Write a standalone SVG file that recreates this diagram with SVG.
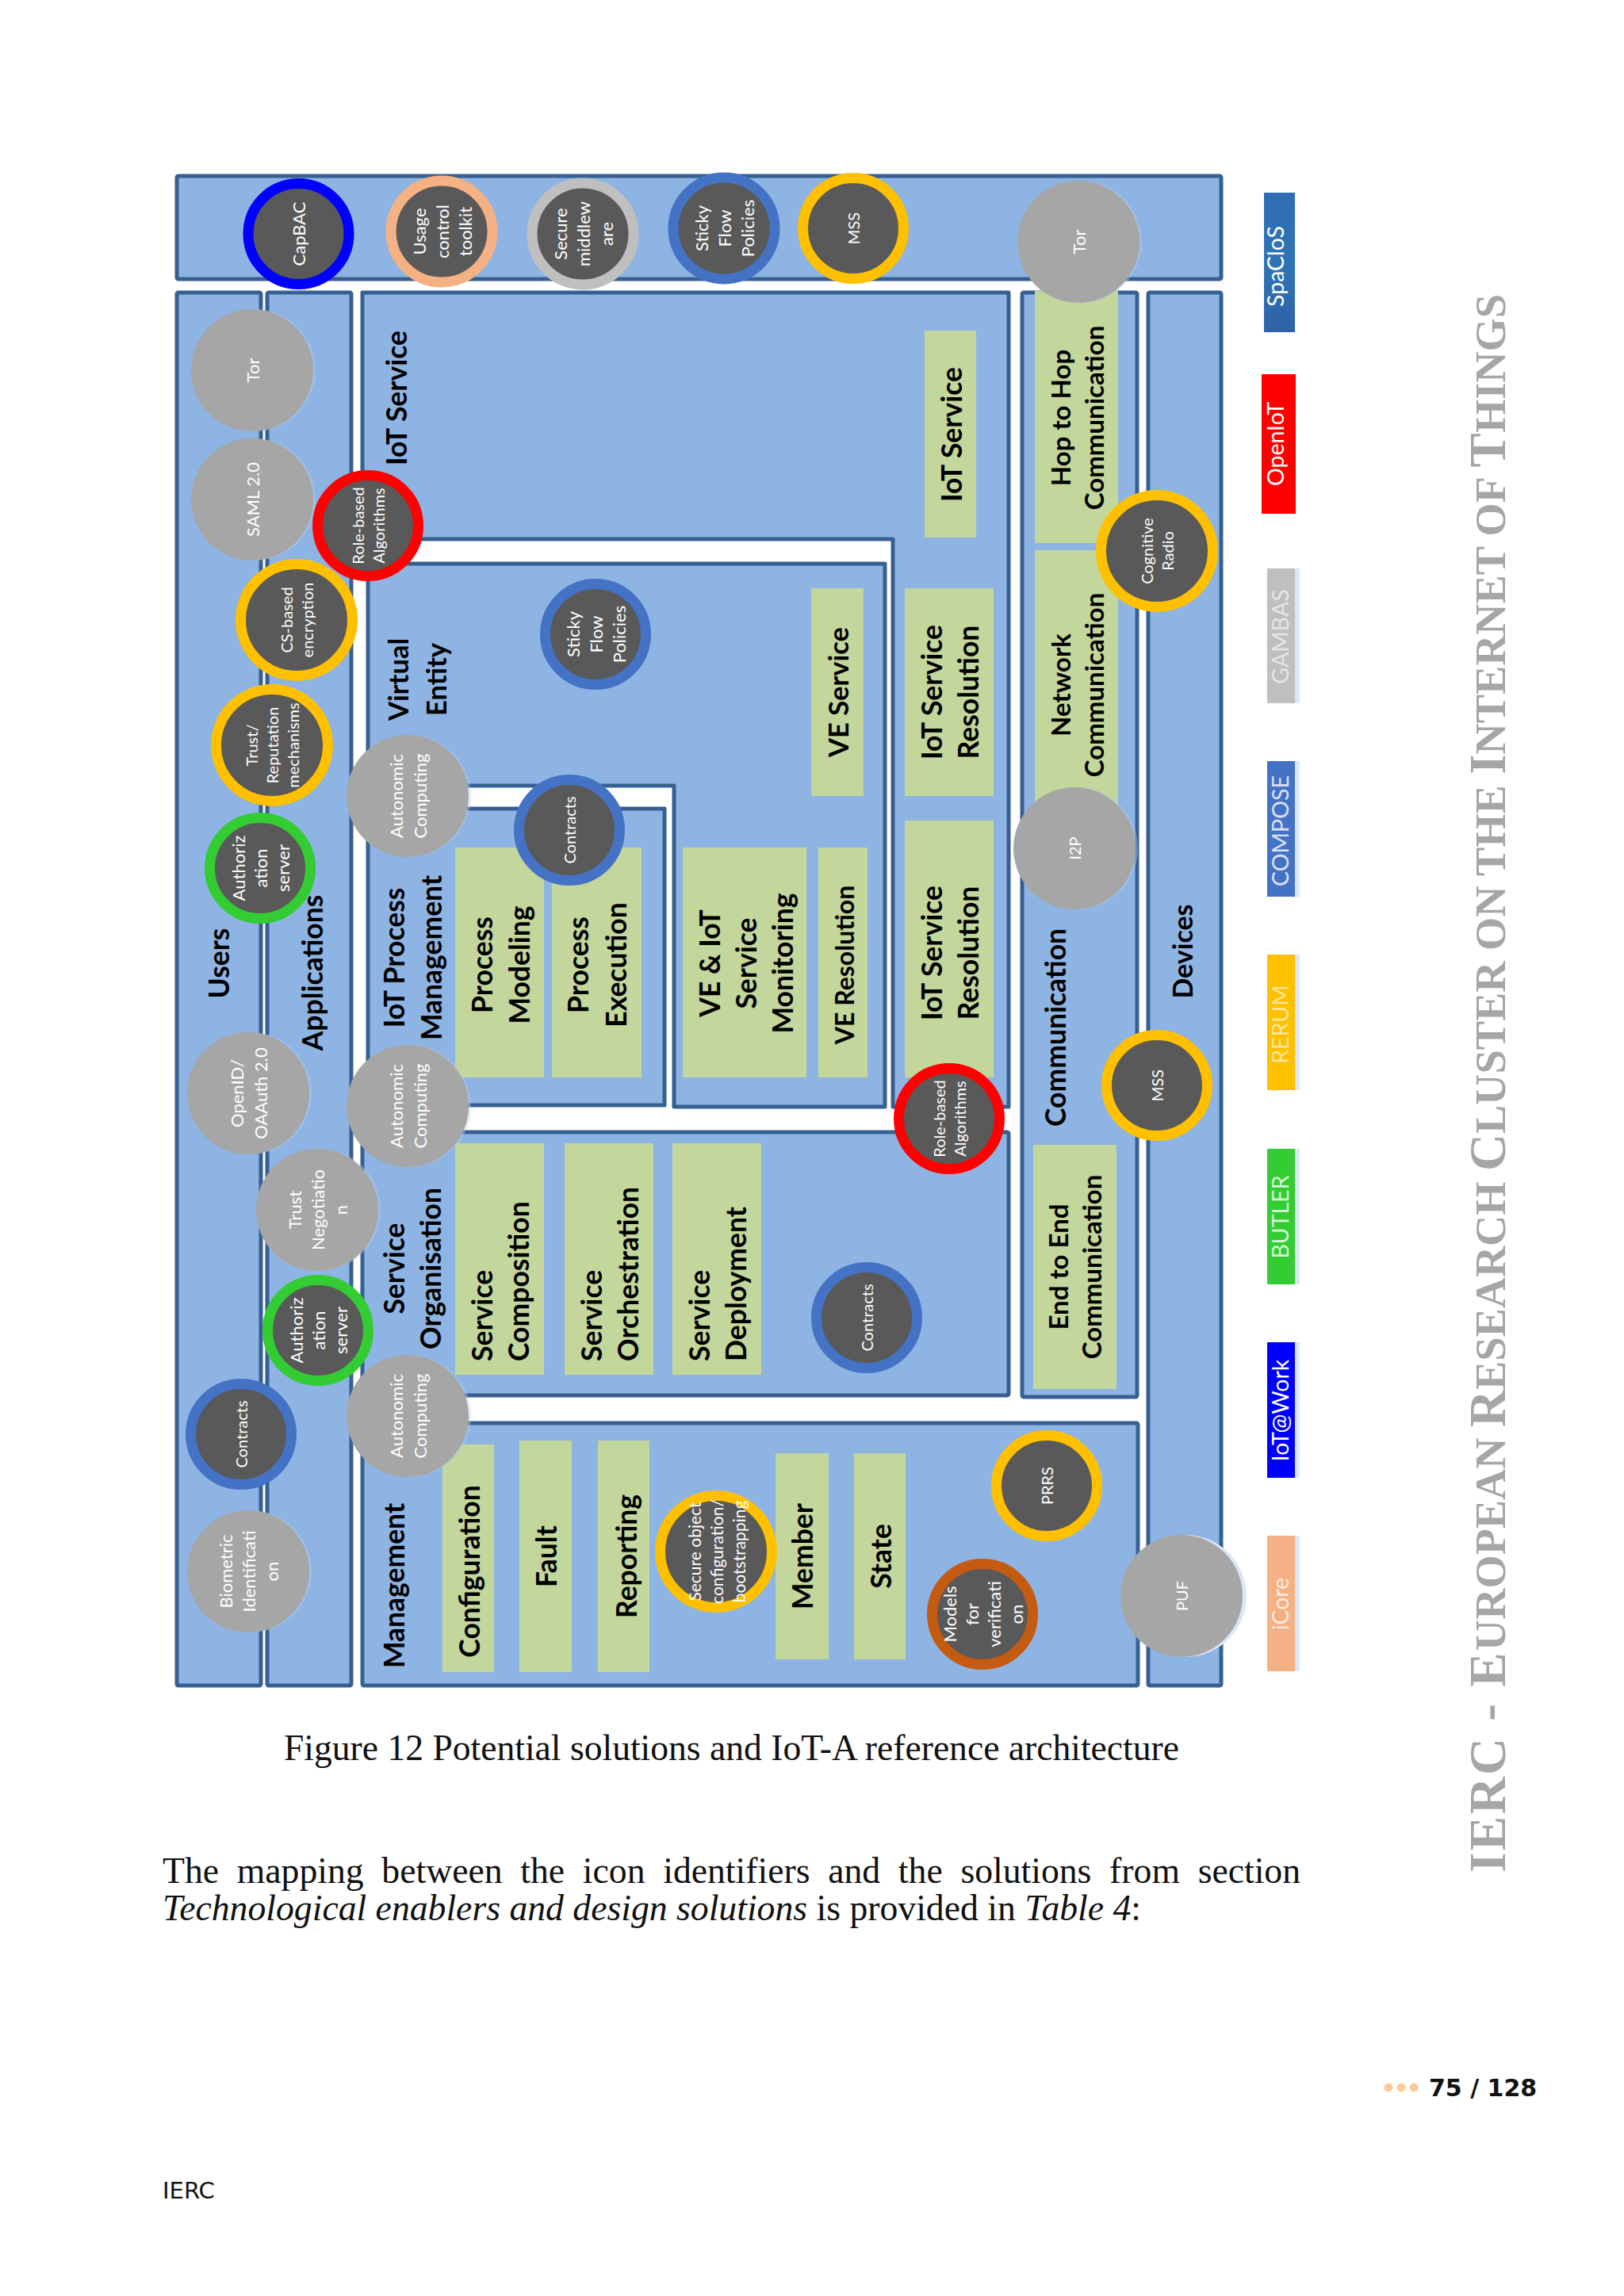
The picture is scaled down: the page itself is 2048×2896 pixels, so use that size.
<svg xmlns="http://www.w3.org/2000/svg" width="2048" height="2896" viewBox="0 0 2048 2896">
<defs><style>
text{font-family:"Lato","Open Sans",sans-serif}
.t{dominant-baseline:central;text-anchor:middle}
.box{fill:#8eb4e3;stroke:#376092;stroke-width:5;stroke-linejoin:round}
.g{fill:#c3d69b}
.b{font-weight:700;font-size:35.500px;fill:#000}
.c{font-size:33px}
.s{font-size:22px;fill:#fff}
.m{font-size:20px;fill:#fff}
.leg{font-size:28.500px;fill:#fff}
.gr{fill:#a6a6a6}
.sh{fill:#b7cdea;opacity:.4}
.dk{fill:#595959;stroke-width:13}
.bs{fill:#dce6f4}
.serif{font-family:"Liberation Serif",serif;font-size:45.700px;fill:#111}
.hd{font-family:"Liberation Serif",serif;font-weight:700;fill:#a6a6a6}
.big{font-size:65px}
</style>
<linearGradient id="spa" x1="0" y1="0" x2="0" y2="1"><stop offset="0" stop-color="#2f6db5"/><stop offset=".5" stop-color="#2e75b6"/><stop offset="1" stop-color="#2f62a8"/></linearGradient>
</defs>
<rect width="2048" height="2896" fill="#fff"/>

<g id="layers">
<rect id="top-bar" class="box" x="223" y="222" width="1317" height="130" rx="2"/>
<rect id="users" class="box" x="223" y="369" width="106" height="1757" rx="2"/>
<rect id="applications" class="box" x="337" y="369" width="106" height="1757" rx="2"/>
<path id="iot-service" class="box" d="M457,369H1272V1396H1126V680H457Z"/>
<path id="virtual-entity" class="box" d="M464,711H1116V1396H850V991H464Z"/>
<rect id="iot-process" class="box" x="464" y="1020" width="374" height="374"/>
<rect id="service-organisation" class="box" x="457" y="1428" width="815" height="332" rx="2"/>
<rect id="management" class="box" x="457" y="1795" width="978" height="331" rx="2"/>
<rect id="communication" class="box" x="1289" y="369" width="145" height="1393" rx="2"/>
<rect id="devices" class="box" x="1448" y="369" width="92" height="1757" rx="2"/>
</g>

<g id="layer-labels">
<text class="t b" transform="translate(499,502) rotate(-90)">IoT Service</text>
<text class="t b" style="font-size:34.500px" transform="translate(525,857) rotate(-90)"><tspan x="0" y="-24">Virtual</tspan><tspan x="0" y="24">Entity</tspan></text>
<text class="t b" transform="translate(520,1208) rotate(-90)"><tspan x="0" y="-24">IoT Process</tspan><tspan x="0" y="23">Management</tspan></text>
<text class="t b" transform="translate(519,1600) rotate(-90)"><tspan x="0" y="-23">Service</tspan><tspan x="0" y="23">Organisation</tspan></text>
<text class="t b" transform="translate(496,2000) rotate(-90)">Management</text>
<text class="t b" transform="translate(275,1215) rotate(-90)">Users</text>
<text class="t b" transform="translate(393,1227) rotate(-90)">Applications</text>
<text class="t b" transform="translate(1330,1296) rotate(-90)">Communication</text>
<text class="t b" style="font-size:34px" transform="translate(1490,1200) rotate(-90)">Devices</text>
</g>

<g id="functional-blocks">
<g id="fb-iot-service"><rect class="g" x="1166" y="417" width="65" height="261"/><text class="t b" transform="translate(1199,548) rotate(-90)">IoT Service</text></g>
<g id="fb-ve-service"><rect class="g" x="1023" y="742" width="66" height="262"/><text class="t b" style="font-size:34.500px" transform="translate(1056,873) rotate(-90)">VE Service</text></g>
<g id="fb-iot-res-1"><rect class="g" x="1141" y="742" width="112" height="262"/><text class="t b" transform="translate(1197,873) rotate(-90)"><tspan x="0" y="-23">IoT Service</tspan><tspan x="0" y="23">Resolution</tspan></text></g>
<g id="fb-iot-res-2"><rect class="g" x="1141" y="1035" width="112" height="324"/><text class="t b" transform="translate(1197,1202) rotate(-90)"><tspan x="0" y="-23">IoT Service</tspan><tspan x="0" y="23">Resolution</tspan></text></g>
<g id="fb-ve-res"><rect class="g" x="1032" y="1069" width="62" height="290"/><text class="t b" style="font-size:32px" transform="translate(1064,1217) rotate(-90)">VE Resolution</text></g>
<g id="fb-ve-mon"><rect class="g" x="861" y="1069" width="156" height="290"/><text class="t b" transform="translate(940,1215) rotate(-90)"><tspan x="0" y="-46">VE &amp; IoT</tspan><tspan x="0" y="0">Service</tspan><tspan x="0" y="46">Monitoring</tspan></text></g>
<g id="fb-proc-mod"><rect class="g" x="574" y="1069" width="112" height="290"/><text class="t b" transform="translate(630,1217) rotate(-90)"><tspan x="0" y="-23">Process</tspan><tspan x="0" y="24">Modeling</tspan></text></g>
<g id="fb-proc-exe"><rect class="g" x="696" y="1069" width="113" height="290"/><text class="t b" transform="translate(752,1217) rotate(-90)"><tspan x="0" y="-24">Process</tspan><tspan x="0" y="24">Execution</tspan></text></g>
<g id="fb-svc-comp"><rect class="g" x="574" y="1442" width="112" height="292"/><text class="b" style="dominant-baseline:central" transform="translate(630,1717) rotate(-90)"><tspan x="0" y="-23">Service</tspan><tspan x="0" y="23">Composition</tspan></text></g>
<g id="fb-svc-orch"><rect class="g" x="712" y="1442" width="112" height="292"/><text class="b" style="dominant-baseline:central" transform="translate(768,1717) rotate(-90)"><tspan x="0" y="-23">Service</tspan><tspan x="0" y="23">Orchestration</tspan></text></g>
<g id="fb-svc-dep"><rect class="g" x="848" y="1442" width="112" height="292"/><text class="b" style="dominant-baseline:central" transform="translate(904,1717) rotate(-90)"><tspan x="0" y="-23">Service</tspan><tspan x="0" y="23">Deployment</tspan></text></g>
<g id="fb-config"><rect class="g" x="558" y="1822" width="65" height="287"/><text class="t b" transform="translate(591,1982) rotate(-90)">Configuration</text></g>
<g id="fb-fault"><rect class="g" x="655" y="1817" width="66" height="292"/><text class="t b" transform="translate(688,1963) rotate(-90)">Fault</text></g>
<g id="fb-reporting"><rect class="g" x="754" y="1817" width="65" height="292"/><text class="t b" transform="translate(789,1963) rotate(-90)">Reporting</text></g>
<g id="fb-member"><rect class="g" x="978" y="1833" width="67" height="260"/><text class="t b" transform="translate(1011,1963) rotate(-90)">Member</text></g>
<g id="fb-state"><rect class="g" x="1077" y="1833" width="65" height="260"/><text class="t b" transform="translate(1110,1963) rotate(-90)">State</text></g>
<g id="fb-e2e"><rect class="g" x="1303" y="1444" width="105" height="308"/><text class="t b c" transform="translate(1355,1598) rotate(-90)"><tspan x="0" y="-21">End to End</tspan><tspan x="0" y="21">Communication</tspan></text></g>
<g id="fb-hop"><rect class="g" x="1305" y="367" width="105" height="318"/><text class="t b c" transform="translate(1358,527) rotate(-90)"><tspan x="0" y="-21">Hop to Hop</tspan><tspan x="0" y="21">Communication</tspan></text></g>
<g id="fb-net"><rect class="g" x="1305" y="694" width="105" height="322"/><text class="t b c" transform="translate(1358,864) rotate(-90)"><tspan x="0" y="-21">Network</tspan><tspan x="0" y="21">Communication</tspan></text></g>
</g>

<g id="solutions">
<g id="sol-capbac"><circle class="dk" cx="376.500" cy="295" r="63.500" stroke="#0000ff"/><text class="t s" transform="translate(376.500,295) rotate(-90)">CapBAC</text></g>
<g id="sol-usage"><circle class="dk" cx="557" cy="292" r="64" stroke="#f4b183"/><text class="t s" transform="translate(557,292) rotate(-90)"><tspan x="0" y="-29">Usage</tspan><tspan x="0" y="0">control</tspan><tspan x="0" y="29">toolkit</tspan></text></g>
<g id="sol-secure-mw"><circle class="dk" cx="735" cy="295" r="64" stroke="#bfbfbf"/><text class="t s" transform="translate(735,295) rotate(-90)"><tspan x="0" y="-29">Secure</tspan><tspan x="0" y="0">middlew</tspan><tspan x="0" y="29">are</tspan></text></g>
<g id="sol-sticky-top"><circle class="dk" cx="913" cy="288" r="64" stroke="#4472c4"/><text class="t s" transform="translate(913,288) rotate(-90)"><tspan x="0" y="-29">Sticky</tspan><tspan x="0" y="0">Flow</tspan><tspan x="0" y="29">Policies</tspan></text></g>
<g id="sol-mss-top"><circle class="dk" cx="1076" cy="288" r="63.500" stroke="#ffc000"/><text class="t m" transform="translate(1076,288) rotate(-90)">MSS</text></g>
<g id="sol-tor-top"><circle class="sh" cx="1363" cy="305" r="77"/><circle class="gr" cx="1360" cy="305" r="77"/><text class="t s" transform="translate(1360,305) rotate(-90)">Tor</text></g>
<g id="sol-tor"><circle class="sh" cx="321" cy="467" r="77"/><circle class="gr" cx="318" cy="467" r="77"/><text class="t s" transform="translate(318,467) rotate(-90)">Tor</text></g>
<g id="sol-saml"><circle class="sh" cx="321" cy="630" r="77"/><circle class="gr" cx="318" cy="630" r="77"/><text class="t s" transform="translate(318,630) rotate(-90)">SAML 2.0</text></g>
<g id="sol-role-1"><circle class="dk" cx="464" cy="663" r="63.500" stroke="#ff0000"/><text class="t m" transform="translate(464,663) rotate(-90)"><tspan x="0" y="-13">Role-based</tspan><tspan x="0" y="13">Algorithms</tspan></text></g>
<g id="sol-cs"><circle class="dk" cx="374" cy="782" r="70.500" stroke="#ffc000"/><text class="t m" transform="translate(374,782) rotate(-90)"><tspan x="0" y="-13">CS-based</tspan><tspan x="0" y="13">encryption</tspan></text></g>
<g id="sol-trust"><circle class="dk" cx="343" cy="940" r="70.500" stroke="#ffc000"/><text class="t m" transform="translate(343,940) rotate(-90)"><tspan x="0" y="-26">Trust/</tspan><tspan x="0" y="0">Reputation</tspan><tspan x="0" y="26">mechanisms</tspan></text></g>
<g id="sol-auth-1"><circle class="dk" cx="328" cy="1095" r="63.500" stroke="#33cc33"/><text class="t s" transform="translate(328,1095) rotate(-90)"><tspan x="0" y="-28">Authoriz</tspan><tspan x="0" y="0">ation</tspan><tspan x="0" y="28">server</tspan></text></g>
<g id="sol-sticky-ve"><circle class="dk" cx="751" cy="800" r="63.500" stroke="#4472c4"/><text class="t s" transform="translate(751,800) rotate(-90)"><tspan x="0" y="-29">Sticky</tspan><tspan x="0" y="0">Flow</tspan><tspan x="0" y="29">Policies</tspan></text></g>
<g id="sol-autonomic-1"><circle class="sh" cx="517" cy="1004" r="77"/><circle class="gr" cx="514" cy="1004" r="77"/><text class="t s" transform="translate(514,1004) rotate(-90)"><tspan x="0" y="-15">Autonomic</tspan><tspan x="0" y="15">Computing</tspan></text></g>
<g id="sol-contracts-1"><circle class="dk" cx="718" cy="1047" r="63.500" stroke="#4472c4"/><text class="t m" transform="translate(718,1047) rotate(-90)">Contracts</text></g>
<g id="sol-openid"><circle class="sh" cx="316" cy="1379" r="77"/><circle class="gr" cx="313" cy="1379" r="77"/><text class="t s" transform="translate(313,1379) rotate(-90)"><tspan x="0" y="-15">OpenID/</tspan><tspan x="0" y="15">OAAuth 2.0</tspan></text></g>
<g id="sol-autonomic-2"><circle class="sh" cx="517" cy="1395" r="77"/><circle class="gr" cx="514" cy="1395" r="77"/><text class="t s" transform="translate(514,1395) rotate(-90)"><tspan x="0" y="-15">Autonomic</tspan><tspan x="0" y="15">Computing</tspan></text></g>
<g id="sol-trust-neg"><circle class="sh" cx="403" cy="1526" r="77"/><circle class="gr" cx="400" cy="1526" r="77"/><text class="t s" transform="translate(400,1526) rotate(-90)"><tspan x="0" y="-29">Trust</tspan><tspan x="0" y="0">Negotiatio</tspan><tspan x="0" y="29">n</tspan></text></g>
<g id="sol-auth-2"><circle class="dk" cx="401" cy="1678" r="63.500" stroke="#33cc33"/><text class="t s" transform="translate(401,1678) rotate(-90)"><tspan x="0" y="-28">Authoriz</tspan><tspan x="0" y="0">ation</tspan><tspan x="0" y="28">server</tspan></text></g>
<g id="sol-autonomic-3"><circle class="sh" cx="517" cy="1786" r="77"/><circle class="gr" cx="514" cy="1786" r="77"/><text class="t s" transform="translate(514,1786) rotate(-90)"><tspan x="0" y="-15">Autonomic</tspan><tspan x="0" y="15">Computing</tspan></text></g>
<g id="sol-contracts-2"><circle class="dk" cx="304" cy="1809" r="63.500" stroke="#4472c4"/><text class="t m" transform="translate(304,1809) rotate(-90)">Contracts</text></g>
<g id="sol-biometric"><circle class="sh" cx="316" cy="1982" r="77"/><circle class="gr" cx="313" cy="1982" r="77"/><text class="t s" transform="translate(313,1982) rotate(-90)"><tspan x="0" y="-29">Biometric</tspan><tspan x="0" y="0">Identificati</tspan><tspan x="0" y="29">on</tspan></text></g>
<g id="sol-secure-obj"><circle class="dk" cx="903" cy="1957" r="70.500" stroke="#ffc000"/><text class="t m" style="font-size:21px" transform="translate(903,1957) rotate(-90)"><tspan x="0" y="-28">Secure object</tspan><tspan x="0" y="0">configuration/</tspan><tspan x="0" y="28">bootstrapping</tspan></text></g>
<g id="sol-role-2"><circle class="dk" cx="1197" cy="1411" r="63.500" stroke="#ff0000"/><text class="t m" transform="translate(1197,1411) rotate(-90)"><tspan x="0" y="-13">Role-based</tspan><tspan x="0" y="13">Algorithms</tspan></text></g>
<g id="sol-mss-2"><circle class="dk" cx="1459" cy="1369" r="63.500" stroke="#ffc000"/><text class="t m" transform="translate(1459,1369) rotate(-90)">MSS</text></g>
<g id="sol-contracts-3"><circle class="dk" cx="1093" cy="1662" r="63.500" stroke="#4472c4"/><text class="t m" transform="translate(1093,1662) rotate(-90)">Contracts</text></g>
<g id="sol-prrs"><circle class="dk" cx="1320" cy="1874" r="63.500" stroke="#ffc000"/><text class="t m" transform="translate(1320,1874) rotate(-90)">PRRS</text></g>
<g id="sol-models"><circle class="dk" cx="1239" cy="2036" r="63.500" stroke="#c55a11"/><text class="t s" transform="translate(1239,2036) rotate(-90)"><tspan x="0" y="-42">Models</tspan><tspan x="0" y="-14">for</tspan><tspan x="0" y="14">verificati</tspan><tspan x="0" y="42">on</tspan></text></g>
<g id="sol-puf"><circle class="bs" cx="1495" cy="2013" r="77"/><circle class="gr" cx="1490" cy="2013" r="77"/><text class="t m" transform="translate(1490,2013) rotate(-90)">PUF</text></g>
<g id="sol-cognitive"><circle class="dk" cx="1459" cy="695" r="70.500" stroke="#ffc000"/><text class="t m" transform="translate(1459,695) rotate(-90)"><tspan x="0" y="-13">Cognitive</tspan><tspan x="0" y="13">Radio</tspan></text></g>
<g id="sol-i2p"><circle class="sh" cx="1358" cy="1070" r="77"/><circle class="gr" cx="1355" cy="1070" r="77"/><text class="t m" transform="translate(1355,1070) rotate(-90)">I2P</text></g>
</g>

<g id="legend">
<g id="leg-spaclos"><rect x="1594" y="243" width="39" height="176" fill="url(#spa)"/><text class="t leg" transform="translate(1608,336) rotate(-90)">SpaCloS</text></g>
<g id="leg-openiot"><rect x="1591" y="472" width="43" height="176" fill="#ff0000"/><text class="t leg" transform="translate(1608,560) rotate(-90)">OpenIoT</text></g>
<g id="leg-gambas"><rect class="bs" x="1633" y="717" width="6" height="170"/><rect x="1598" y="717" width="35" height="170" fill="#bfbfbf"/><text class="t leg" opacity=".6" transform="translate(1614,803) rotate(-90)">GAMBAS</text></g>
<g id="leg-compose"><rect class="bs" x="1633" y="960" width="6" height="171"/><rect x="1598" y="960" width="35" height="171" fill="#4472c4"/><text class="t leg" opacity=".8" transform="translate(1614,1048) rotate(-90)">COMPOSE</text></g>
<g id="leg-rerum"><rect class="bs" x="1633" y="1204" width="6" height="171"/><rect x="1598" y="1204" width="35" height="171" fill="#ffc000"/><text class="t leg" opacity=".6" transform="translate(1614,1292) rotate(-90)">RERUM</text></g>
<g id="leg-butler"><rect class="bs" x="1633" y="1449" width="6" height="171"/><rect x="1598" y="1449" width="35" height="171" fill="#33cc33"/><text class="t leg" opacity=".8" transform="translate(1614,1535) rotate(-90)">BUTLER</text></g>
<g id="leg-iotwork"><rect class="bs" x="1633" y="1693" width="6" height="171"/><rect x="1598" y="1693" width="35" height="171" fill="#0000ff"/><text class="t leg" transform="translate(1614,1779) rotate(-90)">IoT@Work</text></g>
<g id="leg-icore"><rect class="bs" x="1633" y="1937" width="6" height="171"/><rect x="1598" y="1937" width="35" height="171" fill="#f4b183"/><text class="t leg" opacity=".75" transform="translate(1614,2023) rotate(-90)">iCore</text></g>
</g>

<text id="running-head" class="hd" font-size="54.300" transform="translate(1898,2362) rotate(-90)"><tspan class="big" letter-spacing="2.500">IERC - E</tspan>UROPEAN <tspan class="big">R</tspan>ESEARCH <tspan class="big">C</tspan>LUSTER ON THE <tspan class="big">I</tspan>NTERNET OF <tspan class="big">T</tspan>HINGS</text>

<text id="caption" class="serif" style="font-size:45.600px" x="358" y="2220">Figure 12 Potential solutions and IoT-A reference architecture</text>
<text id="body-1" class="serif" x="205" y="2375" word-spacing="11.300">The mapping between the icon identifiers and the solutions from section</text>
<text id="body-2" class="serif" x="205" y="2422"><tspan font-style="italic">Technological enablers and design solutions</tspan> is provided in <tspan font-style="italic">Table 4</tspan>:</text>

<g id="page-number">
<circle cx="1751" cy="2633" r="5.500" fill="#fbc99a"/><circle cx="1767" cy="2633" r="5.500" fill="#fbc99a"/><circle cx="1783" cy="2633" r="5.500" fill="#fbc99a"/>
<text x="1802" y="2644" style="font-family:'DejaVu Sans',sans-serif;font-weight:700;font-size:30px" fill="#111">75 / 128</text>
</g>
<text id="footer" x="205" y="2773" style="font-family:'DejaVu Sans',sans-serif;font-size:29px" fill="#111">IERC</text>
</svg>
